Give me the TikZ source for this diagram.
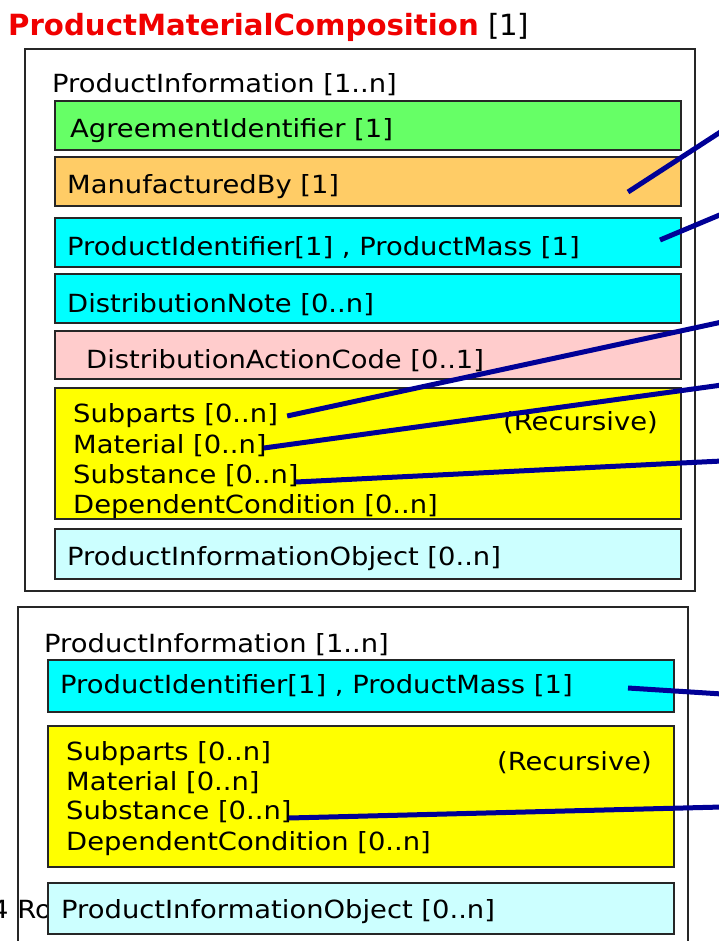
\documentclass[tikz,border=0pt]{standalone}
\usepackage{fontspec}
\setmainfont[FakeStretch=1.095]{DejaVu Sans}
\newfontfamily\titlefont[FakeStretch=1.0]{DejaVu Sans}
\usetikzlibrary{calc}
\definecolor{cgreen}{RGB}{102,255,102}
\definecolor{corange}{RGB}{255,204,102}
\definecolor{ccyan}{RGB}{0,255,255}
\definecolor{cpink}{RGB}{255,204,204}
\definecolor{cyellow}{RGB}{255,255,0}
\definecolor{clight}{RGB}{204,255,255}
\definecolor{cnavy}{RGB}{0,0,150}
\definecolor{ctitle}{RGB}{240,0,0}
\tikzset{
  box/.style={draw=black!85, line width=1.7bp, anchor=north west, inner sep=0pt, minimum width=626bp},
  lbl/.style={anchor=base west, inner sep=0pt, font=\fontsize{25bp}{30bp}\selectfont},
  conn/.style={draw=cnavy, line width=5bp},
  frame/.style={draw=black!85, line width=1.4bp}
}
\begin{document}
\begin{tikzpicture}[x=1bp,y=-1bp]
\useasboundingbox (0,0) rectangle (719,941);
\clip (0,0) rectangle (719,941);
\fill[white] (0,0) rectangle (719,941);

% title
\node[anchor=base west, inner sep=0pt, font=\fontsize{29.2bp}{34bp}\titlefont] (title) at (8,35)
  {\textcolor{ctitle}{\bfseries ProductMaterialComposition} [1]};

% ---------- first ProductInformation block ----------
\draw[frame] (25,49) rectangle (695,591);
\node[lbl] (hdrA) at (52,92) {ProductInformation [1..n]};

\node[box, fill=cgreen,  minimum height=49bp] (agree) at (54,100) {};
\node[box, fill=corange, minimum height=49bp] (manuf) at (54,156) {};
\node[box, fill=ccyan,   minimum height=49bp] (pidA)  at (54,217) {};
\node[box, fill=ccyan,   minimum height=49bp] (dnote) at (54,273) {};
\node[box, fill=cpink,   minimum height=48bp] (dac)   at (54,330) {};
\node[box, fill=cyellow, minimum height=131bp] (partsA) at (54,387) {};
\node[box, fill=clight,  minimum height=50bp] (pioA)  at (54,528) {};

\node[lbl] (tAgree) at (70,137) {AgreementIdentifier [1]};
\node[lbl] (tManuf) at (67,193) {ManufacturedBy [1]};
\node[lbl] (tPidA)  at (67,255) {ProductIdentifier[1] , ProductMass [1]};
\node[lbl] (tNote)  at (67,312) {DistributionNote [0..n]};
\node[lbl] (tDac)   at (86,368) {DistributionActionCode [0..1]};
\node[lbl] (spA)    at (73,422) {Subparts [0..n]};
\node[lbl] (maA)    at (73,453) {Material [0..n]};
\node[lbl] (suA)    at (73,483) {Substance [0..n]};
\node[lbl] (dcA)    at (73,513) {DependentCondition [0..n]};
\node[lbl] (recA)   at (503,430) {(Recursive)};
\node[lbl] (tPioA)  at (67,565) {ProductInformationObject [0..n]};

% connector end points at the right edge
\coordinate (s1) at (628,192);
\coordinate (e1) at (722,131);
\coordinate (s2) at (660,240);
\coordinate (e2) at (722,214);
\coordinate (e3) at (722,322);
\coordinate (e4) at (722,385);
\coordinate (e5) at (722,461);

\draw[conn] (s1) -- (e1);
\draw[conn] (s2) -- (e2);
\draw[conn] ($(spA.base east)+(9,-6)$) -- (e3);
\draw[conn] ($(maA.base east)+(-3,-5)$) -- (e4);
\draw[conn] ($(suA.base east)+(-3,-1)$) -- (e5);

% ---------- second ProductInformation block ----------
\draw[frame] (18,607) rectangle (688,960);
\node[lbl] (hdrB) at (44,652) {ProductInformation [1..n]};

\node[box, fill=ccyan,   minimum height=52bp]  (pidB)   at (47,659) {};
\node[box, fill=cyellow, minimum height=141bp] (partsB) at (47,725) {};

\node[lbl] (tPidB) at (60,693) {ProductIdentifier[1] , ProductMass [1]};
\node[lbl] (spB)   at (66,760) {Subparts [0..n]};
\node[lbl] (maB)   at (66,790) {Material [0..n]};
\node[lbl] (suB)   at (66,819) {Substance [0..n]};
\node[lbl] (dcB)   at (66,850) {DependentCondition [0..n]};
\node[lbl] (recB)  at (497,770) {(Recursive)};

\node[lbl] (foot) at (-9,918) {4 Ro};
\node[box, fill=clight, minimum height=51bp] (pioB) at (47,882) {};
\node[lbl] (tPioB) at (61,918) {ProductInformationObject [0..n]};

\coordinate (s6) at (628,688);
\coordinate (e6) at (722,694);
\coordinate (e7) at (722,807);
\draw[conn] (s6) -- (e6);
\draw[conn] ($(suB.base east)+(-3,-1)$) -- (e7);
\end{tikzpicture}
\end{document}
